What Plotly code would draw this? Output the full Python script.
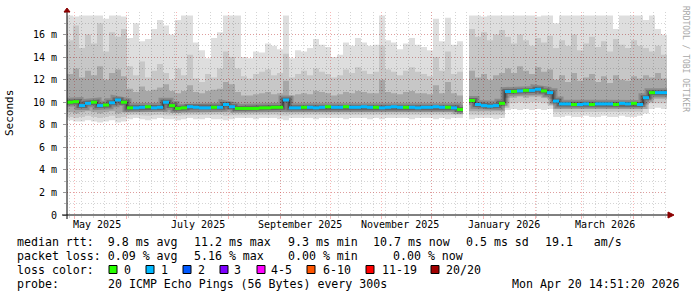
import pandas as pd
import plotly.graph_objects as go

# ---------------- data ----------------
T_START = "2025-04-26 06:00"
T_END = "2026-04-21 00:00"
N_BINS = 100

median_ms = [
    10.0, 10.05, 9.7, 9.9, 10.0, 9.7, 9.75, 9.95, 10.2, 10.0,
    9.5, 9.5, 9.55, 9.6, 9.5, 9.55, 10.0, 9.7, 9.45, 9.5,
    9.6, 9.55, 9.5, 9.5, 9.55, 9.55, 9.8, 9.6, 9.45, 9.45,
    9.45, 9.45, 9.5, 9.5, 9.55, 9.55, 10.2, 9.5, 9.5, 9.55,
    9.55, 9.5, 9.55, 9.6, 9.55, 9.55, 9.6, 9.55, 9.55, 9.6,
    9.55, 9.55, 9.5, 9.55, 9.6, 9.55, 9.55, 9.55, 9.5, 9.55,
    9.55, 9.6, 9.55, 9.55, 9.5, 9.35, None, 10.15, 9.8, 9.7,
    9.65, 9.7, 9.9, 10.95, 10.95, 11.0, 11.05, 11.05, 11.15, 11.0,
    10.85, 10.1, 9.85, 9.85, 9.8, 9.8, 9.85, 9.8, 9.85, 9.85,
    9.85, 9.8, 9.9, 9.85, 9.9, 9.8, 10.4, 10.85, 10.85, 10.85,
]
loss_count = [
    0, 0, 1, 1, 0, 1, 0, 1, 1, 0,
    0, 1, 1, 0, 1, 1, 1, 0, 0, 0,
    1, 1, 1, 1, 0, 1, 1, 1, 0, 0,
    0, 0, 0, 0, 0, 0, 1, 1, 1, 0,
    1, 1, 1, 0, 1, 1, 0, 1, 1, 1,
    1, 0, 1, 1, 1, 1, 0, 1, 1, 1,
    1, 1, 1, 0, 1, 0, 0, 0, 1, 1,
    1, 1, 0, 1, 0, 1, 0, 1, 1, 0,
    1, 1, 1, 1, 0, 1, 1, 0, 1, 1,
    1, 0, 1, 1, 0, 1, 1, 0, 1, 1,
]
smoke_max = [
    17.7, 17.6, 17.7, 17.7, 17.7, 17.7, 17.4, 17.7, 17.7, 17.6,
    15.7, 17.0, 15.4, 15.6, 16.5, 17.3, 16.8, 16.0, 17.3, 17.7,
    17.7, 15.3, 14.6, 13.9, 15.7, 16.2, 17.7, 17.7, 17.7, 14.0,
    13.9, 14.5, 14.4, 15.2, 15.0, 14.7, 17.7, 13.9, 14.6, 14.5,
    14.8, 15.6, 15.1, 14.9, 14.0, 14.2, 15.3, 15.0, 15.7, 15.3,
    15.0, 15.1, 17.7, 15.5, 15.3, 14.7, 15.2, 15.7, 15.1, 14.9,
    14.6, 17.4, 15.4, 17.5, 15.1, 15.4, None, 17.7, 17.7, 17.6,
    17.7, 17.7, 17.7, 17.7, 17.7, 17.7, 17.7, 17.7, 17.6, 17.7,
    17.7, 17.0, 17.7, 17.7, 17.7, 17.7, 17.7, 17.7, 17.7, 17.7,
    17.7, 16.5, 17.7, 17.7, 17.7, 17.7, 17.3, 17.7, 16.5, 16.0,
]
smoke_hi2 = [
    15.5, 16.8, 14.8, 16.0, 15.2, 17.0, 14.5, 16.2, 15.8, 16.5,
    13.2, 12.4, 13.6, 12.2, 12.8, 13.4, 12.6, 12.0, 13.0, 12.4,
    14.2, 12.1, 11.8, 12.5, 12.2, 13.0, 14.5, 14.0, 13.0, 12.3,
    12.1, 12.5, 12.7, 12.9, 12.4, 12.6, 14.3, 12.2, 12.5, 12.8,
    12.4, 13.0, 12.7, 12.5, 12.2, 12.4, 12.9, 12.6, 13.1, 12.8,
    12.5, 12.7, 15.0, 12.9, 12.7, 12.4, 12.8, 13.1, 12.7, 12.5,
    12.3, 14.0, 12.8, 14.5, 12.5, 12.7, None, 16.5, 15.8, 16.2,
    15.5, 16.0, 16.4, 15.8, 15.2, 16.0, 15.5, 15.0, 15.7, 15.3,
    15.9, 14.8, 15.5, 15.0, 16.0, 14.6, 15.2, 15.8, 14.9, 15.4,
    14.5, 15.6, 15.1, 14.8, 15.5, 15.0, 14.8, 14.5, 15.0, 14.2,
]
smoke_hi3 = [
    12.5, 13.0, 12.2, 12.8, 12.4, 13.2, 12.0, 12.6, 12.9, 12.3,
    11.2, 10.9, 11.4, 11.0, 11.1, 11.3, 11.6, 11.0, 10.8, 11.0,
    11.5, 10.9, 10.8, 11.0, 11.1, 11.2, 11.8, 11.6, 10.9, 10.6,
    10.6, 10.7, 10.8, 10.9, 10.7, 10.8, 11.9, 10.6, 10.7, 10.8,
    10.7, 11.0, 10.9, 10.8, 10.6, 10.7, 10.9, 10.8, 11.0, 10.9,
    10.8, 10.8, 12.0, 10.9, 10.8, 10.7, 10.9, 11.0, 10.8, 10.8,
    10.7, 11.5, 10.8, 11.8, 10.8, 10.6, None, 12.8, 12.2, 12.5,
    12.0, 12.4, 12.6, 13.0, 12.6, 13.2, 12.8, 12.5, 13.1, 12.7,
    12.9, 12.0, 12.4, 11.8, 12.6, 11.9, 12.2, 12.5, 11.8, 12.3,
    11.7, 12.4, 12.0, 11.9, 12.3, 12.1, 12.4, 12.2, 12.6, 12.1,
]
smoke_min = [
    8.4, 8.3, 8.3, 8.4, 8.3, 8.2, 8.3, 8.4, 8.2, 8.3,
    8.5, 8.6, 8.5, 8.4, 8.5, 8.6, 8.5, 8.5, 8.4, 8.5,
    8.6, 8.5, 8.5, 8.6, 8.5, 8.5, 8.4, 8.5, 8.6, 8.6,
    8.6, 8.5, 8.6, 8.6, 8.6, 8.5, 8.4, 8.6, 8.6, 8.6,
    8.6, 8.5, 8.6, 8.6, 8.6, 8.6, 8.5, 8.6, 8.6, 8.6,
    8.5, 8.6, 8.5, 8.6, 8.6, 8.6, 8.6, 8.5, 8.6, 8.6,
    8.6, 8.5, 8.6, 8.5, 8.6, 8.6, None, 8.5, 8.6, 8.6,
    8.6, 8.5, 8.6, 9.3, 9.4, 9.3, 9.4, 9.3, 9.4, 9.3,
    9.4, 8.7, 8.7, 8.8, 8.7, 8.7, 8.8, 8.7, 8.7, 8.8,
    8.7, 8.7, 8.8, 8.7, 8.7, 8.8, 9.0, 9.4, 9.5, 9.4,
]
smoke_lo2 = [
    8.7, 8.6, 8.7, 8.8, 8.7, 8.6, 8.7, 8.8, 8.6, 8.7,
    8.85, 8.9, 8.85, 8.8, 8.85, 8.9, 8.85, 8.85, 8.8, 8.85,
    8.9, 8.85, 8.85, 8.9, 8.85, 8.9, 8.8, 8.85, 8.9, 8.9,
    8.9, 8.85, 8.9, 8.9, 8.9, 8.85, 8.8, 8.9, 8.9, 8.9,
    8.9, 8.85, 8.9, 8.9, 8.9, 8.9, 8.85, 8.9, 8.9, 8.9,
    8.85, 8.9, 8.85, 8.9, 8.9, 8.9, 8.9, 8.85, 8.9, 8.9,
    8.9, 8.85, 8.9, 8.85, 8.9, 8.9, None, 8.9, 8.9, 8.9,
    8.9, 8.85, 8.9, 9.9, 9.9, 10.0, 9.9, 10.0, 10.0, 9.9,
    9.8, 9.1, 9.1, 9.15, 9.1, 9.1, 9.15, 9.1, 9.1, 9.15,
    9.1, 9.1, 9.15, 9.1, 9.1, 9.15, 9.4, 9.9, 9.9, 9.9,
]
smoke_lo3 = [
    9.1, 9.0, 9.1, 9.2, 9.1, 9.0, 9.1, 9.2, 9.0, 9.1,
    9.1, 9.15, 9.1, 9.1, 9.1, 9.15, 9.1, 9.1, 9.05, 9.1,
    9.15, 9.1, 9.1, 9.15, 9.1, 9.15, 9.1, 9.1, 9.1, 9.1,
    9.1, 9.1, 9.15, 9.15, 9.15, 9.1, 9.1, 9.15, 9.15, 9.15,
    9.15, 9.1, 9.15, 9.15, 9.15, 9.15, 9.1, 9.15, 9.15, 9.15,
    9.1, 9.15, 9.1, 9.15, 9.15, 9.15, 9.15, 9.1, 9.15, 9.15,
    9.15, 9.1, 9.15, 9.1, 9.15, 9.0, None, 9.2, 9.2, 9.2,
    9.2, 9.2, 9.2, 10.4, 10.4, 10.5, 10.4, 10.5, 10.5, 10.4,
    10.3, 9.4, 9.4, 9.45, 9.4, 9.4, 9.45, 9.4, 9.4, 9.45,
    9.4, 9.4, 9.45, 9.4, 9.4, 9.45, 9.8, 10.3, 10.3, 10.3,
]

month_grid = pd.date_range("2025-05-01", "2026-04-01", freq="MS")
week_tick0 = "2025-04-28"
month_label_dates = ["2025-05-14", "2025-07-14", "2025-09-13",
                     "2025-11-12", "2026-01-13", "2026-03-15"]
month_label_text = ["May 2025", "July 2025", "September 2025",
                    "November 2025", "January 2026", "March 2026"]
y_tick_vals = [0, 2, 4, 6, 8, 10, 12, 14, 16]
y_tick_text = ["0", "2 m", "4 m", "6 m", "8 m", "10 m", "12 m", "14 m", "16 m"]

loss_legend_labels = ["0", "1", "2", "3", "4-5", "6-10", "11-19", "20/20"]
loss_legend_colors = ["#26ff00", "#00b8ff", "#0059ff", "#7e00ff",
                      "#ff00ff", "#ff5500", "#ff0000", "#a10000"]

legend_line1 = [("median rtt:  9.8 ms avg", 16), ("11.2 ms max", 193),
                ("9.3 ms min", 287), ("10.7 ms now", 372),
                ("0.5 ms sd", 465), ("19.1   am/s", 544)]
legend_line2 = [("packet loss: 0.09 % avg", 16), ("5.16 % max", 193),
                ("0.00 % min", 287), ("0.00 % now", 392)]
probe_text = "20 ICMP Echo Pings (56 Bytes) every 300s"
stamp_text = "Mon Apr 20 14:51:20 2026"

# ---------------- layout constants ----------------
W, H = 697, 297
PL, PR, PT, PB = 67, 667, 12, 215
MONO = "DejaVu Sans Mono"


def fx(px):
    return (px - PL) / (PR - PL)


def fy(py):
    return (PB - py) / (PB - PT)


edges = pd.date_range(T_START, T_END, periods=N_BINS + 1)

fig = go.Figure()


def runs(values):
    out, cur = [], []
    for k, v in enumerate(values):
        if v is None:
            if cur:
                out.append(cur)
            cur = []
        else:
            cur.append(k)
    if cur:
        out.append(cur)
    return out


def add_band(lo, hi, color):
    for run in runs(hi):
        xs, ys = [], []
        for k in run:
            xs += [edges[k], edges[k + 1]]
            ys += [hi[k], hi[k]]
        for k in reversed(run):
            xs += [edges[k + 1], edges[k]]
            ys += [lo[k], lo[k]]
        fig.add_trace(go.Scatter(x=xs, y=ys, mode="lines", fill="toself",
                                 fillcolor=color, line=dict(width=0),
                                 hoverinfo="skip", showlegend=False))


add_band(smoke_min, smoke_max, "rgba(0,0,0,0.13)")
add_band(smoke_lo2, smoke_hi2, "rgba(0,0,0,0.10)")
add_band(smoke_lo3, smoke_hi3, "rgba(0,0,0,0.16)")

# stepped median path (for the dark smoke core)
sx, sy = [], []
for k, m in enumerate(median_ms):
    if m is None:
        sx.append(None)
        sy.append(None)
        continue
    sx += [edges[k], edges[k + 1]]
    sy += [m, m]
for w, c in [(9, "rgba(0,0,0,0.17)"), (5, "rgba(0,0,0,0.25)"), (1, "rgba(0,0,0,0.55)")]:
    fig.add_trace(go.Scatter(x=sx, y=sy, mode="lines", line=dict(width=w, color=c),
                             hoverinfo="skip", showlegend=False))

# median coloured by loss
loss_color = {0: loss_legend_colors[0], 1: loss_legend_colors[1], 2: loss_legend_colors[2],
              3: loss_legend_colors[3]}
for lvl, col in loss_color.items():
    xs, ys = [], []
    for k, m in enumerate(median_ms):
        if m is None or loss_count[k] != lvl:
            continue
        xs += [edges[k], edges[k + 1], None]
        ys += [m, m, None]
    if xs:
        fig.add_trace(go.Scatter(x=xs, y=ys, mode="lines", line=dict(width=3, color=col),
                                 hoverinfo="skip", showlegend=False))

MAJOR = "rgba(235,80,80,0.42)"
MINOR = "rgba(120,120,120,0.32)"
DASH = "1px,2px"

fig.update_xaxes(
    range=[edges[0], edges[-1]], tickmode="array", tickvals=list(month_grid),
    showticklabels=False, ticks="outside", ticklen=3, tickcolor=MAJOR,
    showgrid=True, gridcolor=MAJOR, griddash=DASH, gridwidth=1,
    minor=dict(tick0=week_tick0, dtick=7 * 86400000, showgrid=True, gridcolor=MINOR,
               griddash=DASH, ticks="outside", ticklen=2, tickcolor=MINOR),
    showline=False, zeroline=False, fixedrange=True,
)
fig.update_yaxes(
    range=[0, 18], tickmode="array", tickvals=y_tick_vals, ticktext=y_tick_text,
    tickfont=dict(family=MONO, size=10, color="#000"),
    ticks="outside", ticklen=3, tickcolor="#999", ticklabelstandoff=4,
    showgrid=True, gridcolor=MAJOR, griddash=DASH, gridwidth=1,
    minor=dict(dtick=1, showgrid=True, gridcolor=MINOR, griddash=DASH,
               ticks="outside", ticklen=2, tickcolor="#bbb"),
    showline=False, zeroline=False, fixedrange=True,
)

ann = []
for d, t in zip(month_label_dates, month_label_text):
    ann.append(dict(x=d, xref="x", y=fy(224.5), yref="paper", text=t, showarrow=False,
                    xanchor="center", yanchor="middle", borderpad=0,
                    font=dict(family=MONO, size=10, color="#000")))

LEG = dict(family=MONO, size=11.6, color="#000")
for line, ypix in [(legend_line1, 241.5), (legend_line2, 255.5)]:
    for txt, xpix in line:
        ann.append(dict(x=fx(xpix), xref="paper", y=fy(ypix), yref="paper", text=txt,
                        showarrow=False, xanchor="left", yanchor="middle", borderpad=0,
                        font=LEG))
ann.append(dict(x=fx(16), xref="paper", y=fy(269.5), yref="paper", text="loss color:",
                showarrow=False, xanchor="left", yanchor="middle", borderpad=0, font=LEG))
box_x = [109, 146, 183, 220, 257, 307, 366, 431]
lab_x = [123, 160, 197, 233, 270, 322, 381, 445]
shapes = []
for lab, col, bx, lx in zip(loss_legend_labels, loss_legend_colors, box_x, lab_x):
    shapes.append(dict(type="rect", xref="paper", yref="paper", x0=fx(bx), x1=fx(bx + 8),
                       y0=fy(273.5), y1=fy(265.5), fillcolor=col,
                       line=dict(color="#000", width=1)))
    ann.append(dict(x=fx(lx), xref="paper", y=fy(269.5), yref="paper", text=lab,
                    showarrow=False, xanchor="left", yanchor="middle", borderpad=0, font=LEG))
ann.append(dict(x=fx(16), xref="paper", y=fy(283.5), yref="paper", text="probe:",
                showarrow=False, xanchor="left", yanchor="middle", borderpad=0, font=LEG))
ann.append(dict(x=fx(107), xref="paper", y=fy(283.5), yref="paper", text=probe_text,
                showarrow=False, xanchor="left", yanchor="middle", borderpad=0, font=LEG))
ann.append(dict(x=fx(681), xref="paper", y=fy(283.5), yref="paper", text=stamp_text,
                showarrow=False, xanchor="right", yanchor="middle", borderpad=0, font=LEG))
ann.append(dict(x=fx(10), xref="paper", y=fy(113), yref="paper", text="Seconds",
                showarrow=False, xanchor="center", yanchor="middle", textangle=-90,
                borderpad=0, font=dict(family=MONO, size=11, color="#000")))
ann.append(dict(x=fx(686), xref="paper", y=fy(59), yref="paper",
                text="RRDTOOL / TOBI OETIKER", showarrow=False, xanchor="center",
                yanchor="middle", textangle=90, borderpad=0,
                font=dict(family=MONO, size=8, color="#a8a8a8")))

# axis lines and arrows
shapes.append(dict(type="line", xref="paper", yref="paper", xsizemode="pixel", xanchor=0,
                   x0=-5, x1=605, y0=0, y1=0, line=dict(color="#000", width=1)))
shapes.append(dict(type="line", xref="paper", yref="paper", ysizemode="pixel", yanchor=0,
                   y0=-4, y1=204, x0=0, x1=0, line=dict(color="#000", width=1)))
shapes.append(dict(type="path", xref="paper", yref="paper", xsizemode="pixel",
                   ysizemode="pixel", xanchor=1, yanchor=0,
                   path="M 1,-3 L 7,0 L 1,3 Z", fillcolor="#8b0000",
                   line=dict(color="#8b0000", width=1)))
shapes.append(dict(type="path", xref="paper", yref="paper", xsizemode="pixel",
                   ysizemode="pixel", xanchor=0, yanchor=1,
                   path="M -3,0 L 0,4 L 3,0 Z", fillcolor="#8b0000",
                   line=dict(color="#8b0000", width=1)))

fig.update_layout(
    width=W, height=H, margin=dict(l=PL, r=W - PR, t=PT, b=H - PB),
    paper_bgcolor="#ffffff", plot_bgcolor="#ffffff",
    annotations=ann, shapes=shapes, showlegend=False,
    font=dict(family=MONO, size=10, color="#000"),
)

fig.write_html("out.html", config={"displayModeBar": False})
